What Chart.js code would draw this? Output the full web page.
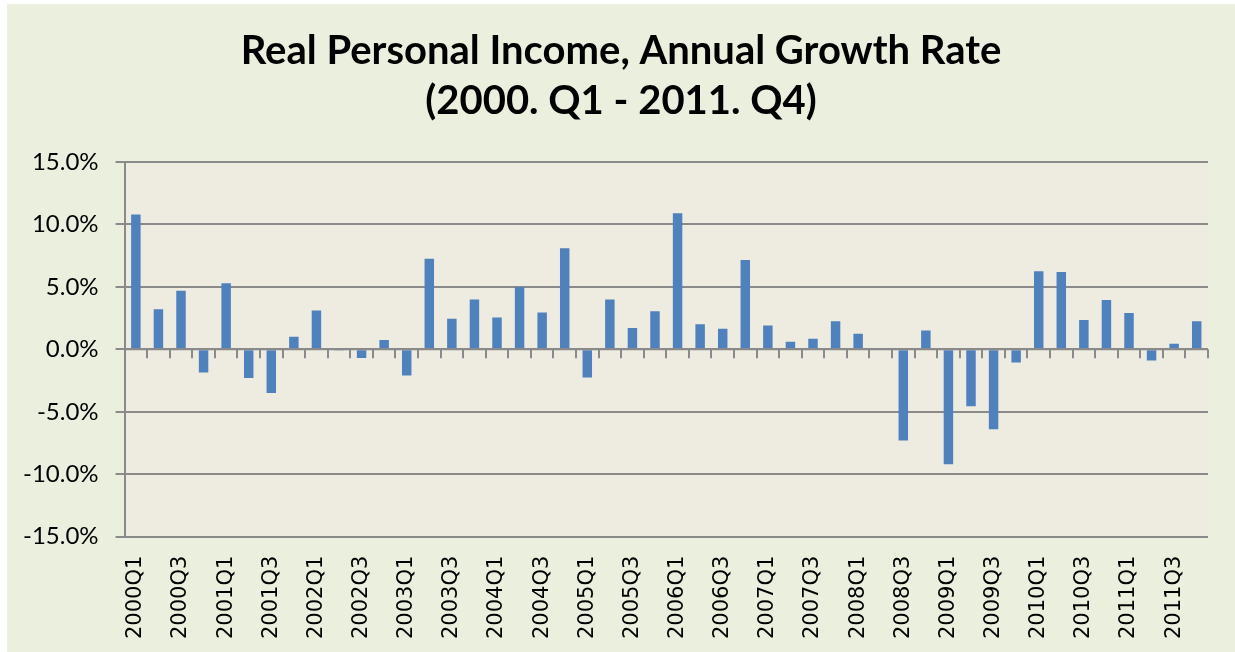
<!DOCTYPE html>
<html>
<head>
<meta charset="utf-8">
<script src="https://cdn.jsdelivr.net/npm/chart.js@4.4.1/dist/chart.umd.min.js"></script>
<style>
    html, body { margin: 0; padding: 0; background: #ffffff; }
    #wrap {
        position: absolute; left: 7px; top: 4px;
        width: 1228px; height: 648px;
        background: #ebefde;
    }
</style>
</head>
<body>
<div id="wrap"><canvas id="incomeChart"></canvas></div>
<script>
// Quarters 2000Q1 .. 2011Q4
const quarters = [
    '2000Q1', '2000Q2', '2000Q3', '2000Q4',
    '2001Q1', '2001Q2', '2001Q3', '2001Q4',
    '2002Q1', '2002Q2', '2002Q3', '2002Q4',
    '2003Q1', '2003Q2', '2003Q3', '2003Q4',
    '2004Q1', '2004Q2', '2004Q3', '2004Q4',
    '2005Q1', '2005Q2', '2005Q3', '2005Q4',
    '2006Q1', '2006Q2', '2006Q3', '2006Q4',
    '2007Q1', '2007Q2', '2007Q3', '2007Q4',
    '2008Q1', '2008Q2', '2008Q3', '2008Q4',
    '2009Q1', '2009Q2', '2009Q3', '2009Q4',
    '2010Q1', '2010Q2', '2010Q3', '2010Q4',
    '2011Q1', '2011Q2', '2011Q3', '2011Q4'
];

// annual growth rate, percent
const growthRate = [
    10.8, 3.2, 4.7, -1.85,
    5.3, -2.3, -3.5, 1.0,
    3.1, -0.1, -0.7, 0.75,
    -2.1, 7.25, 2.45, 4.0,
    2.55, 5.0, 2.95, 8.1,
    -2.25, 4.0, 1.7, 3.05,
    10.9, 2.0, 1.65, 7.15,
    1.9, 0.6, 0.85, 2.25,
    1.25, 0, -7.3, 1.5,
    -9.2, -4.55, -6.4, -1.05,
    6.25, 6.2, 2.35, 3.95,
    2.9, -0.9, 0.45, 2.25
];

const yTicks = [-15, -10, -5, 0, 5, 10, 15];

const gridColor = '#8a8a8a';

// plot area fill + Excel-style tick marks on the zero line
const plotAreaPlugin = {
    id: 'plotArea',
    afterLayout: function (chart) {
        // center the title on the whole canvas, not the padded box
        if (chart.titleBlock) {
            chart.titleBlock.left = 0;
            chart.titleBlock.right = chart.width;
            chart.titleBlock.width = chart.width;
        }
    },
    beforeDraw: function (chart) {
        const a = chart.chartArea;
        const ctx = chart.ctx;
        ctx.save();
        ctx.fillStyle = '#eeece1';
        ctx.fillRect(a.left, a.top, a.right - a.left, a.bottom - a.top);
        ctx.restore();
    },
    afterDatasetsDraw: function (chart) {
        const x = chart.scales.x;
        const y = chart.scales.y;
        const ctx = chart.ctx;
        const y0 = y.getPixelForValue(0);
        ctx.save();
        ctx.strokeStyle = gridColor;
        ctx.lineWidth = 2;
        ctx.beginPath();
        ctx.moveTo(chart.chartArea.left, y0);
        ctx.lineTo(chart.chartArea.right, y0);
        for (let i = 0; i <= quarters.length; i++) {
            let px;
            if (i === 0) px = chart.chartArea.left;
            else if (i === quarters.length) px = chart.chartArea.right;
            else px = (x.getPixelForValue(i - 1) + x.getPixelForValue(i)) / 2;
            px = Math.round(px);
            ctx.moveTo(px, y0);
            ctx.lineTo(px, y0 + 9);
        }
        ctx.stroke();
        ctx.restore();
    }
};

const ctx = document.getElementById('incomeChart').getContext('2d');
new Chart(ctx, {
    type: 'bar',
    data: {
        labels: quarters,
        datasets: [{
            data: growthRate,
            backgroundColor: '#4f81bd',
            borderWidth: 0,
            barPercentage: 0.42,
            categoryPercentage: 1.0
        }]
    },
    options: {
        responsive: true,
        maintainAspectRatio: false,
        animation: false,
        layout: {
            padding: { left: -1, right: 27, top: 0, bottom: -6 }
        },
        plugins: {
            legend: { display: false },
            tooltip: { enabled: false },
            title: {
                display: true,
                text: ['Real Personal Income, Annual Growth Rate', '(2000. Q1 - 2011. Q4)'],
                color: '#000000',
                font: { family: 'Lato', size: 40, weight: 'bold', lineHeight: 1.25 },
                padding: { top: 22, bottom: 36 }
            }
        },
        scales: {
            x: {
                grid: { display: false, drawTicks: false },
                border: { display: false },
                afterFit: function (scale) {
                    scale.paddingLeft = 0;
                    scale.paddingRight = 0;
                },
                ticks: {
                    autoSkip: false,
                    maxRotation: 90,
                    minRotation: 90,
                    padding: 19,
                    color: '#000000',
                    font: { family: 'DejaVu Sans', size: 21 },
                    callback: function (value, index) {
                        return index % 2 === 0 ? quarters[index] : '';
                    }
                }
            },
            y: {
                min: -15,
                max: 15,
                afterBuildTicks: function (axis) {
                    axis.ticks = yTicks.map(v => ({ value: v }));
                },
                grid: {
                    color: gridColor,
                    lineWidth: 2,
                    drawTicks: true,
                    tickLength: 9
                },
                border: { display: true, color: gridColor, width: 2 },
                ticks: {
                    padding: 17,
                    color: '#000000',
                    font: { family: 'Lato', size: 24 },
                    callback: function (value) {
                        return value.toFixed(1) + '%';
                    }
                }
            }
        }
    },
    plugins: [plotAreaPlugin]
});
</script>
</body>
</html>
